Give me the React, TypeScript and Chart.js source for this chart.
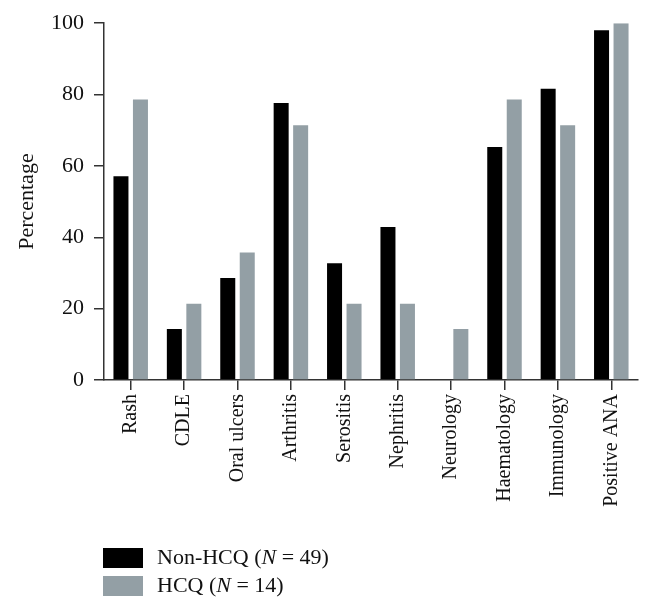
import React, { useEffect, useRef } from "react";
import { Chart, registerables } from "chart.js";

Chart.register(...registerables);

const categories = [
  "Rash",
  "CDLE",
  "Oral ulcers",
  "Arthritis",
  "Serositis",
  "Nephritis",
  "Neurology",
  "Haematology",
  "Immunology",
  "Positive ANA",
];
const nonHcqValues = [57.1, 14.3, 28.6, 77.6, 32.7, 42.9, 0, 65.3, 81.6, 98.0];
const hcqValues = [78.6, 21.4, 35.7, 71.4, 21.4, 21.4, 14.3, 78.6, 71.4, 100];
const yTicks = [0, 20, 40, 60, 80, 100];
const nonHcqLabel = ["Non-HCQ (", "N", " = 49)"];
const hcqLabel = ["HCQ (", "N", " = 14)"];

const FONT = "'Liberation Serif', 'DejaVu Serif', serif";
const BLACK = "#000000";
const GRAY = "#939fa5";

const legendPlugin = {
  id: "customLegend",
  afterDraw(chart: any) {
    const ctx = chart.ctx;
    const items = [
      { color: BLACK, parts: nonHcqLabel, y: 548 },
      { color: GRAY, parts: hcqLabel, y: 576 },
    ];
    ctx.save();
    items.forEach((it) => {
      ctx.fillStyle = it.color;
      ctx.fillRect(103, it.y, 40, 20);
      let x = 157;
      ctx.fillStyle = "#111";
      ctx.textBaseline = "middle";
      ctx.textAlign = "left";
      it.parts.forEach((p, i) => {
        ctx.font = (i === 1 ? "italic " : "") + "22px " + FONT;
        ctx.fillText(p, x, it.y + 10);
        x += ctx.measureText(p).width;
      });
    });
    ctx.restore();
  },
};

export default function App() {
  const ref = useRef<HTMLCanvasElement>(null);
  useEffect(() => {
    if (!ref.current) return;
    const chart = new Chart(ref.current, {
      type: "bar",
      data: {
        labels: categories,
        datasets: [
          {
            label: "Non-HCQ (N = 49)",
            data: nonHcqValues,
            backgroundColor: BLACK,
            categoryPercentage: 0.73,
            barPercentage: 0.77,
          },
          {
            label: "HCQ (N = 14)",
            data: hcqValues,
            backgroundColor: GRAY,
            categoryPercentage: 0.73,
            barPercentage: 0.77,
          },
        ],
      },
      options: {
        responsive: false,
        animation: false,
        layout: { padding: { left: 0, right: 16, top: 18, bottom: 0 } },
        plugins: {
          legend: { display: false },
          tooltip: { enabled: false },
        },
        scales: {
          x: {
            offset: true,
            grid: {
              offset: false,
              drawOnChartArea: false,
              drawTicks: true,
              tickLength: 10,
              color: "#333",
              lineWidth: 1.5,
            },
            border: { display: true, color: "#333", width: 1.5 },
            ticks: {
              autoSkip: false,
              maxRotation: 90,
              minRotation: 90,
              padding: 4,
              color: "#111",
              font: { family: FONT, size: 20 },
            },
            afterFit(scale: any) {
              scale.height = 231;
            },
          },
          y: {
            min: 0,
            max: 100,
            afterBuildTicks(scale: any) {
              scale.ticks = yTicks.map((v) => ({ value: v }));
            },
            grid: {
              drawOnChartArea: false,
              drawTicks: true,
              tickLength: 10,
              color: "#333",
              lineWidth: 1.5,
            },
            border: { display: true, color: "#333", width: 1.5 },
            ticks: {
              padding: 10,
              color: "#111",
              font: { family: FONT, size: 22 },
            },
            title: {
              display: true,
              text: "Percentage",
              color: "#111",
              font: { family: FONT, size: 22 },
              padding: { top: 14, bottom: 0 },
            },
            afterFit(scale: any) {
              scale.width = 104;
            },
          },
        },
      },
      plugins: [legendPlugin],
    });
    return () => chart.destroy();
  }, []);
  return (
    <div style={{ position: "absolute", left: 0, top: 0, width: 654, height: 611, background: "#fff" }}>
      <canvas ref={ref} width={654} height={611} style={{ display: "block" }} />
    </div>
  );
}
